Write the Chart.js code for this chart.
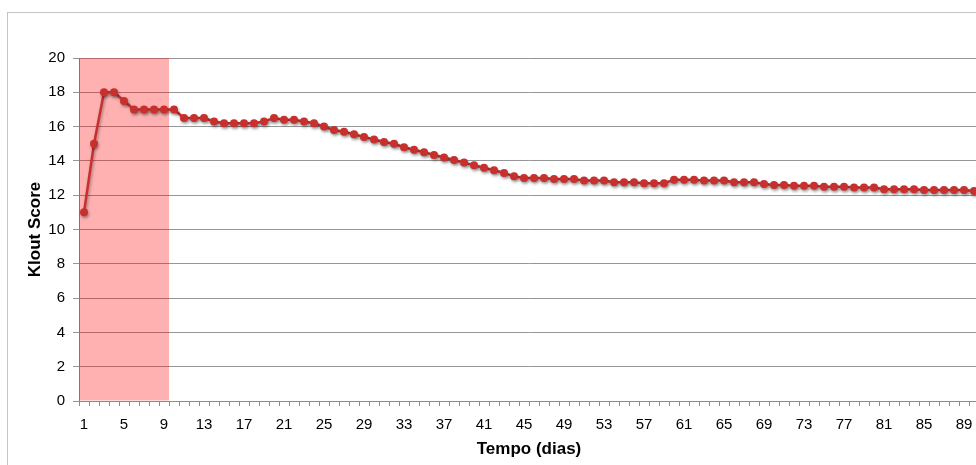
<!DOCTYPE html>
<html>
<head>
<meta charset="utf-8">
<script src="https://cdn.jsdelivr.net/npm/chart.js@4.4.1/dist/chart.umd.min.js"></script>
<style>
    body { margin: 0; background: #ffffff; overflow: hidden; width: 976px; height: 465px; position: relative; }
    #frame { position: absolute; left: 7px; top: 12px; width: 1000px; height: 470px; border-left: 1px solid #c4c4c4; border-top: 1px solid #c4c4c4; }
    #chart-box { position: absolute; left: 8px; top: 13px; width: 990px; height: 452px; }
</style>
</head>
<body>
<div id="frame"></div>
<div id="chart-box"><canvas id="klout-chart"></canvas></div>
<script>
// Days 1..90
const days = Array.from({ length: 90 }, (_, i) => String(i + 1));

const kloutScores = [
    11, 15, 18, 18, 17.5, 17, 17, 17, 17, 17,
    16.5, 16.5, 16.5, 16.3, 16.2, 16.2, 16.2, 16.2, 16.3, 16.5,
    16.4, 16.4, 16.3, 16.2, 16.0, 15.8, 15.7, 15.55, 15.4, 15.25,
    15.1, 15.0, 14.8, 14.65, 14.5, 14.35, 14.2, 14.05, 13.9, 13.75,
    13.6, 13.45, 13.3, 13.1, 13.0, 13.0, 13.0, 12.95, 12.95, 12.95,
    12.85, 12.85, 12.85, 12.75, 12.75, 12.75, 12.7, 12.7, 12.7, 12.9,
    12.9, 12.9, 12.85, 12.85, 12.85, 12.75, 12.75, 12.75, 12.65, 12.6,
    12.6, 12.55, 12.55, 12.55, 12.5, 12.5, 12.5, 12.45, 12.45, 12.45,
    12.35, 12.35, 12.35, 12.35, 12.3, 12.3, 12.3, 12.3, 12.3, 12.25
];

// First 9 days highlighted
const highlightDays = 9;
const highlightValue = 20;
const highlight = days.map((_, i) => (i < highlightDays ? highlightValue : null));

const lineShadow = {
    id: 'lineShadow',
    beforeDatasetDraw(chart, args) {
        if (args.index !== 1) return;
        const ctx = chart.ctx;
        ctx.save();
        ctx.shadowColor = 'rgba(0, 0, 0, 0.35)';
        ctx.shadowBlur = 3;
        ctx.shadowOffsetX = 1;
        ctx.shadowOffsetY = 2;
    },
    afterDatasetDraw(chart, args) {
        if (args.index !== 1) return;
        chart.ctx.restore();
    }
};

const font = { family: '"Liberation Sans", Arial, sans-serif', size: 15 };
const boldFont = { family: '"Liberation Sans", Arial, sans-serif', size: 17, weight: 'bold' };

const ctx = document.getElementById('klout-chart').getContext('2d');
new Chart(ctx, {
    type: 'bar',
    data: {
        labels: days,
        datasets: [
            {
                type: 'bar',
                data: highlight,
                backgroundColor: 'rgba(255, 0, 0, 0.31)',
                borderWidth: 0,
                barPercentage: 1,
                categoryPercentage: 1,
                inflateAmount: 0,
                order: 2
            },
            {
                type: 'line',
                data: kloutScores,
                borderColor: '#c8302e',
                backgroundColor: '#c8302e',
                borderWidth: 2.5,
                pointRadius: 4,
                pointBorderWidth: 0,
                tension: 0,
                order: 1
            }
        ]
    },
    options: {
        responsive: true,
        maintainAspectRatio: false,
        animation: false,
        layout: {
            padding: { top: 45, right: 19, left: 0, bottom: 0 }
        },
        plugins: {
            legend: { display: false },
            tooltip: { enabled: false }
        },
        scales: {
            x: {
                offset: true,
                grid: {
                    offset: true,
                    drawOnChartArea: false,
                    drawTicks: true,
                    tickLength: 5,
                    color: '#8c8c8c'
                },
                border: { color: '#8c8c8c', width: 1 },
                ticks: {
                    autoSkip: false,
                    maxRotation: 0,
                    padding: 10,
                    color: '#000000',
                    font: font,
                    callback: function(value, index) {
                        return index % 4 === 0 ? this.getLabelForValue(value) : '';
                    }
                },
                title: {
                    display: true,
                    text: 'Tempo (dias)',
                    color: '#000000',
                    font: boldFont,
                    padding: { top: 0, bottom: 5 }
                },
                afterFit: (scale) => { scale.height = 64; }
            },
            y: {
                min: 0,
                max: 20,
                ticks: {
                    stepSize: 2,
                    padding: 8,
                    color: '#000000',
                    font: font
                },
                grid: {
                    color: '#969696',
                    tickLength: 6,
                    lineWidth: 1
                },
                border: { color: '#8c8c8c', width: 1 },
                title: {
                    display: true,
                    text: 'Klout Score',
                    color: '#000000',
                    font: boldFont,
                    padding: { top: 17, bottom: 0 }
                },
                afterFit: (scale) => { scale.width = 71; }
            }
        }
    },
    plugins: [lineShadow]
});
</script>
</body>
</html>
